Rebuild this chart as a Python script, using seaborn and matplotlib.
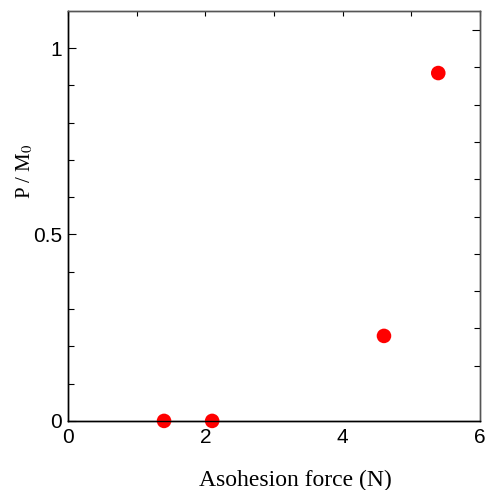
import numpy as np
import pandas as pd
import matplotlib
matplotlib.use("Agg")
import matplotlib.pyplot as plt
import seaborn as sns
from matplotlib.ticker import FixedLocator

# values
force = [1.40, 2.10, 4.60, 5.39]
ratio = [0.0, 0.0, 0.228, 0.933]

x_ticks = [0, 1, 2, 3, 4, 5, 6]
x_labels = ["0", "", "2", "", "4", "", "6"]
y_ticks = [0, 0.5, 1]
y_labels = ["0", "0.5", "1"]

df = pd.DataFrame({"force": force, "ratio": ratio})

sns.set_style("white")
plt.rcParams["mathtext.fontset"] = "stix"
plt.rcParams["text.color"] = "black"
plt.rcParams["axes.labelcolor"] = "black"
plt.rcParams["xtick.color"] = "black"
plt.rcParams["ytick.color"] = "black"

fig = plt.figure(figsize=(4.88, 4.90), dpi=100)
ax = fig.add_axes([0.139, 0.141, 0.845, 0.837])

sns.scatterplot(data=df, x="force", y="ratio", ax=ax, color="#ff0000",
                s=110, edgecolor="none", zorder=5, clip_on=False)

ax.set_xlim(0, 6)
ax.set_ylim(0, 1.1)

ax.xaxis.set_major_locator(FixedLocator(x_ticks))
ax.set_xticklabels(x_labels)
ax.yaxis.set_major_locator(FixedLocator(y_ticks))
ax.set_yticklabels(y_labels)
ax.yaxis.set_minor_locator(FixedLocator([round(0.1 * k, 1) for k in range(1, 11)]))

ax.tick_params(axis="x", which="major", direction="in", length=3.5, width=0.8,
               top=True, labelsize=15, pad=5)
ax.tick_params(axis="y", which="major", direction="in", length=6, width=0.8,
               labelsize=15, pad=4)
ax.tick_params(axis="y", which="minor", direction="in", length=4, width=0.8)
for lab in ax.get_xticklabels() + ax.get_yticklabels():
    lab.set_fontfamily("Liberation Sans")

# right axis has its own slightly shifted tick set
ax2 = ax.twinx()
ax2.set_ylim(-0.048, 1.052)
ax2.yaxis.set_major_locator(FixedLocator([1.0]))
ax2.yaxis.set_minor_locator(FixedLocator([round(0.1 * k, 1) for k in range(1, 10)]))
ax2.tick_params(axis="y", which="major", direction="in", length=6, width=0.8,
                labelright=False)
ax2.tick_params(axis="y", which="minor", direction="in", length=4, width=0.8)

for a in (ax, ax2):
    a.spines["left"].set_color("black")
    a.spines["bottom"].set_color("black")
    a.spines["top"].set_color("#555555")
    a.spines["right"].set_color("#555555")
    for sp in a.spines.values():
        sp.set_linewidth(1.0)

ax.set_xlabel("Asohesion force (N)", fontfamily="Liberation Serif", fontsize=17)
ax.xaxis.set_label_coords(0.553, -0.12)
ax.set_ylabel("P / M$_0$", fontfamily="Liberation Serif", fontsize=15)
ax.yaxis.set_label_coords(-0.08, 0.61)

fig.savefig("out.png", dpi=100)
